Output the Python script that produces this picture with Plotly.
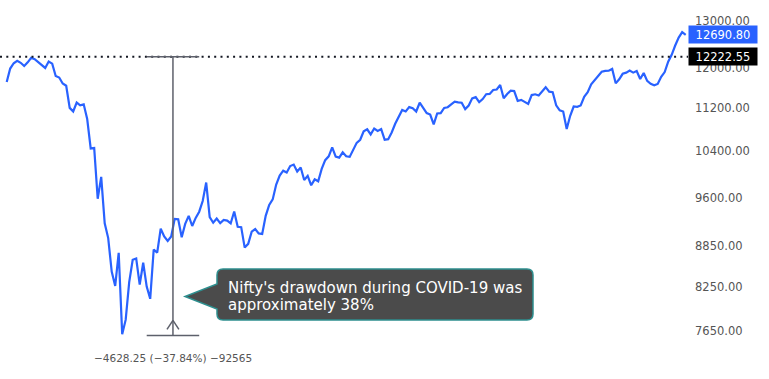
import math
import pandas as pd
import plotly.graph_objects as go

# ---------------- data: Nifty 50 daily closes, Feb 3 2020 -> Nov 12 2020 ----------------
holidays = ["2020-02-21", "2020-03-10", "2020-04-02", "2020-04-06", "2020-04-10",
            "2020-04-14", "2020-05-01", "2020-05-25", "2020-10-02"]

feb = [11707.90, 11979.65, 12089.15, 12137.95, 12098.35, 12031.50, 12107.90, 12201.20,
       12174.65, 12113.45, 12045.80, 11992.50, 12125.90, 12080.85, 11829.40, 11797.90,
       11678.50, 11633.30, 11201.75]
mar = [11132.75, 11303.30, 11251.00, 11269.00, 10989.45, 10451.45, 10458.40, 9590.15,
       9955.20, 9197.40, 8967.05, 8468.80, 8263.45, 8745.45, 7610.25, 7801.05, 8317.85,
       8641.45, 8660.25, 8281.10, 8597.75]
apr = [8253.80, 8083.80, 8792.20, 8748.75, 9111.90, 8993.85, 8925.30, 8992.80, 9266.75,
       9261.85, 8981.45, 9187.30, 9313.90, 9154.40, 9282.30, 9380.90, 9553.35, 9859.90]
may = [9293.50, 9205.60, 9270.90, 9199.05, 9251.50, 9239.20, 9196.55, 9383.55, 9142.75,
       9136.85, 8823.25, 8879.10, 9066.55, 9106.25, 9039.25, 9029.05, 9314.95, 9490.10,
       9580.30]
jun = [9826.15, 9979.10, 10061.55, 10029.10, 10142.15, 10167.45, 10046.65, 10116.15,
       9902.00, 9972.90, 9813.70, 9914.00, 9881.15, 10091.65, 10244.40, 10311.20, 10471.00,
       10305.30, 10288.90, 10383.00, 10312.40, 10302.10]
jul = [10430.05, 10551.70, 10607.35, 10763.65, 10799.65, 10705.75, 10813.45, 10768.05,
       10802.70, 10607.35, 10618.20, 10739.95, 10901.70, 11022.20, 11162.25, 11132.60,
       11215.45, 11194.15, 11131.80, 11300.55, 11202.85, 11102.15, 11073.45]
aug = [10891.60, 11095.25, 11101.65, 11200.15, 11214.05, 11270.15, 11322.50, 11308.40,
       11300.45, 11178.40, 11247.10, 11385.35, 11408.40, 11312.20, 11371.60, 11466.45,
       11472.25, 11549.60, 11559.25, 11647.60, 11387.50]
sep = [11470.25, 11535.00, 11527.45, 11333.85, 11355.05, 11317.35, 11278.00, 11449.25,
       11464.45, 11440.05, 11521.80, 11604.55, 11516.10, 11504.95, 11250.55, 11153.65,
       11131.85, 10805.55, 11050.25, 11227.55, 11222.40, 11247.55]
octo = [11416.95, 11503.35, 11662.40, 11738.85, 11834.60, 11914.20, 11930.95, 11934.50,
        11971.05, 11680.35, 11762.45, 11873.05, 11896.80, 11937.65, 11896.45, 11930.35,
        11767.75, 11889.40, 11729.60, 11670.80, 11642.40]
nov = [11669.15, 11813.50, 11908.50, 12120.30, 12263.55, 12461.05, 12631.10, 12749.15,
       12690.80]

tick_vals = [7650, 8250, 8850, 9600, 10400, 11200, 12000, 13000]
tick_text = ["7650.00", "8250.00", "8850.00", "9600.00", "10400.00", "11200.00",
             "12000.00", "13000.00"]

ref_level = 12222.55          # dotted reference line
drop_points = -4628.25        # measured drawdown
drop_pct = -37.84
drop_bars = -92565
last_close = 12690.80
measure_start, measure_end = 40, 55   # bar indices spanned by the measure tool

callout_lines = ["Nifty's drawdown during COVID-19 was", "approximately 38%"]

# ---------------- build ----------------
dates = [d.strftime("%Y-%m-%d") for d in pd.bdate_range("2020-02-03", "2020-11-12")
         if d.strftime("%Y-%m-%d") not in holidays]
close = feb + mar + apr + may + jun + jul + aug + sep + octo + nov
assert len(dates) == len(close)

low_level = ref_level + drop_points
mid = (measure_start + measure_end) / 2

W, H = 769, 379
ML, MR, MT, MB = 0, 81, 0, 0
PW, PH = W - ML - MR, H - MT - MB


def px(x):
    return (x - ML) / PW


def py(y):
    return 1 - (y - MT) / PH


fig = go.Figure()
fig.add_trace(go.Scatter(x=dates, y=close, mode="lines",
                         line=dict(color="#2962FF", width=2.2),
                         hoverinfo="skip", showlegend=False))

gray = "#5d606b"
shapes = [
    dict(type="line", xref="paper", yref="y", x0=0, x1=1, y0=ref_level, y1=ref_level,
         line=dict(color="#131722", width=2, dash="2px,4.3px")),
    dict(type="line", xref="x", yref="y", x0=measure_start, x1=measure_end,
         y0=ref_level, y1=ref_level, line=dict(color=gray, width=1.5)),
    dict(type="line", xref="x", yref="y", x0=measure_start, x1=measure_end,
         y0=low_level, y1=low_level, line=dict(color=gray, width=1.5)),
    dict(type="line", xref="x", yref="y", x0=mid, x1=mid,
         y0=ref_level, y1=low_level, line=dict(color=gray, width=1.5)),
    dict(type="line", xref="x", yref="y", ysizemode="pixel", yanchor=low_level,
         x0=mid - 1.7, x1=mid, y0=6, y1=0, line=dict(color=gray, width=1.5)),
    dict(type="line", xref="x", yref="y", ysizemode="pixel", yanchor=low_level,
         x0=mid + 1.7, x1=mid, y0=6, y1=0, line=dict(color=gray, width=1.5)),
]

# callout bubble (pixel layout converted to paper coordinates)
L, R, T, B, r = 217, 533, 269, 320, 6
tip = (185, 296.5)


def P(x, y):
    return f"{px(x):.5f},{py(y):.5f}"


path = (f"M{P(L + r, T)} L{P(R - r, T)} Q{P(R, T)} {P(R, T + r)} "
        f"L{P(R, B - r)} Q{P(R, B)} {P(R - r, B)} L{P(L + r, B)} Q{P(L, B)} {P(L, B - r)} "
        f"L{P(L, 309)} L{P(*tip)} L{P(L, 284)} L{P(L, T + r)} Q{P(L, T)} {P(L + r, T)} Z")
shapes.append(dict(type="path", xref="paper", yref="paper", path=path,
                   fillcolor="#4b4b4b", line=dict(color="#2e8f8f", width=1.5)))

font = "DejaVu Sans, Verdana, sans-serif"
annotations = [
    dict(xref="paper", yref="paper", x=px(226), y=py(288), xanchor="left", yanchor="middle",
         text=callout_lines[0], showarrow=False, font=dict(family=font, size=15, color="white")),
    dict(xref="paper", yref="paper", x=px(226), y=py(305), xanchor="left", yanchor="middle",
         text=callout_lines[1], showarrow=False, font=dict(family=font, size=15, color="white")),
    dict(xref="x", yref="paper", x=mid, y=py(358), xanchor="center", yanchor="middle",
         text=f"\u2212{abs(drop_points):.2f} (\u2212{abs(drop_pct):.2f}%) \u2212{abs(drop_bars)}",
         showarrow=False, font=dict(family=font, size=10.5, color="#555555")),
    dict(xref="paper", yref="y", x=1, y=math.log10(last_close), xanchor="left",
         yanchor="middle", text=f"{last_close:.2f}", showarrow=False, width=64, height=13,
         borderpad=2, align="center", bgcolor="#2962FF",
         font=dict(family=font, size=11.5, color="white")),
    dict(xref="paper", yref="y", x=1, y=math.log10(ref_level), xanchor="left",
         yanchor="middle", text=f"{ref_level:.2f}", showarrow=False, width=64, height=13,
         borderpad=2, align="center", bgcolor="#000000",
         font=dict(family=font, size=11.5, color="white")),
]

fig.update_layout(
    width=W, height=H,
    margin=dict(l=ML, r=MR, t=MT, b=MB),
    paper_bgcolor="white", plot_bgcolor="white",
    hovermode=False, showlegend=False,
    shapes=shapes, annotations=annotations,
    xaxis=dict(type="category", visible=False, range=[-1.914, 194.66]),
    yaxis=dict(type="log", side="right", range=[math.log10(7049), math.log10(13468)],
               tickvals=tick_vals, ticktext=tick_text, showgrid=False, zeroline=False,
               showline=False, ticks="", ticklabelstandoff=6,
               tickfont=dict(family=font, size=11.5, color="#555555")),
)

fig.write_html("out.html", config={"displayModeBar": False},
               post_script="document.body.style.margin='0';document.body.style.overflow='hidden';")
